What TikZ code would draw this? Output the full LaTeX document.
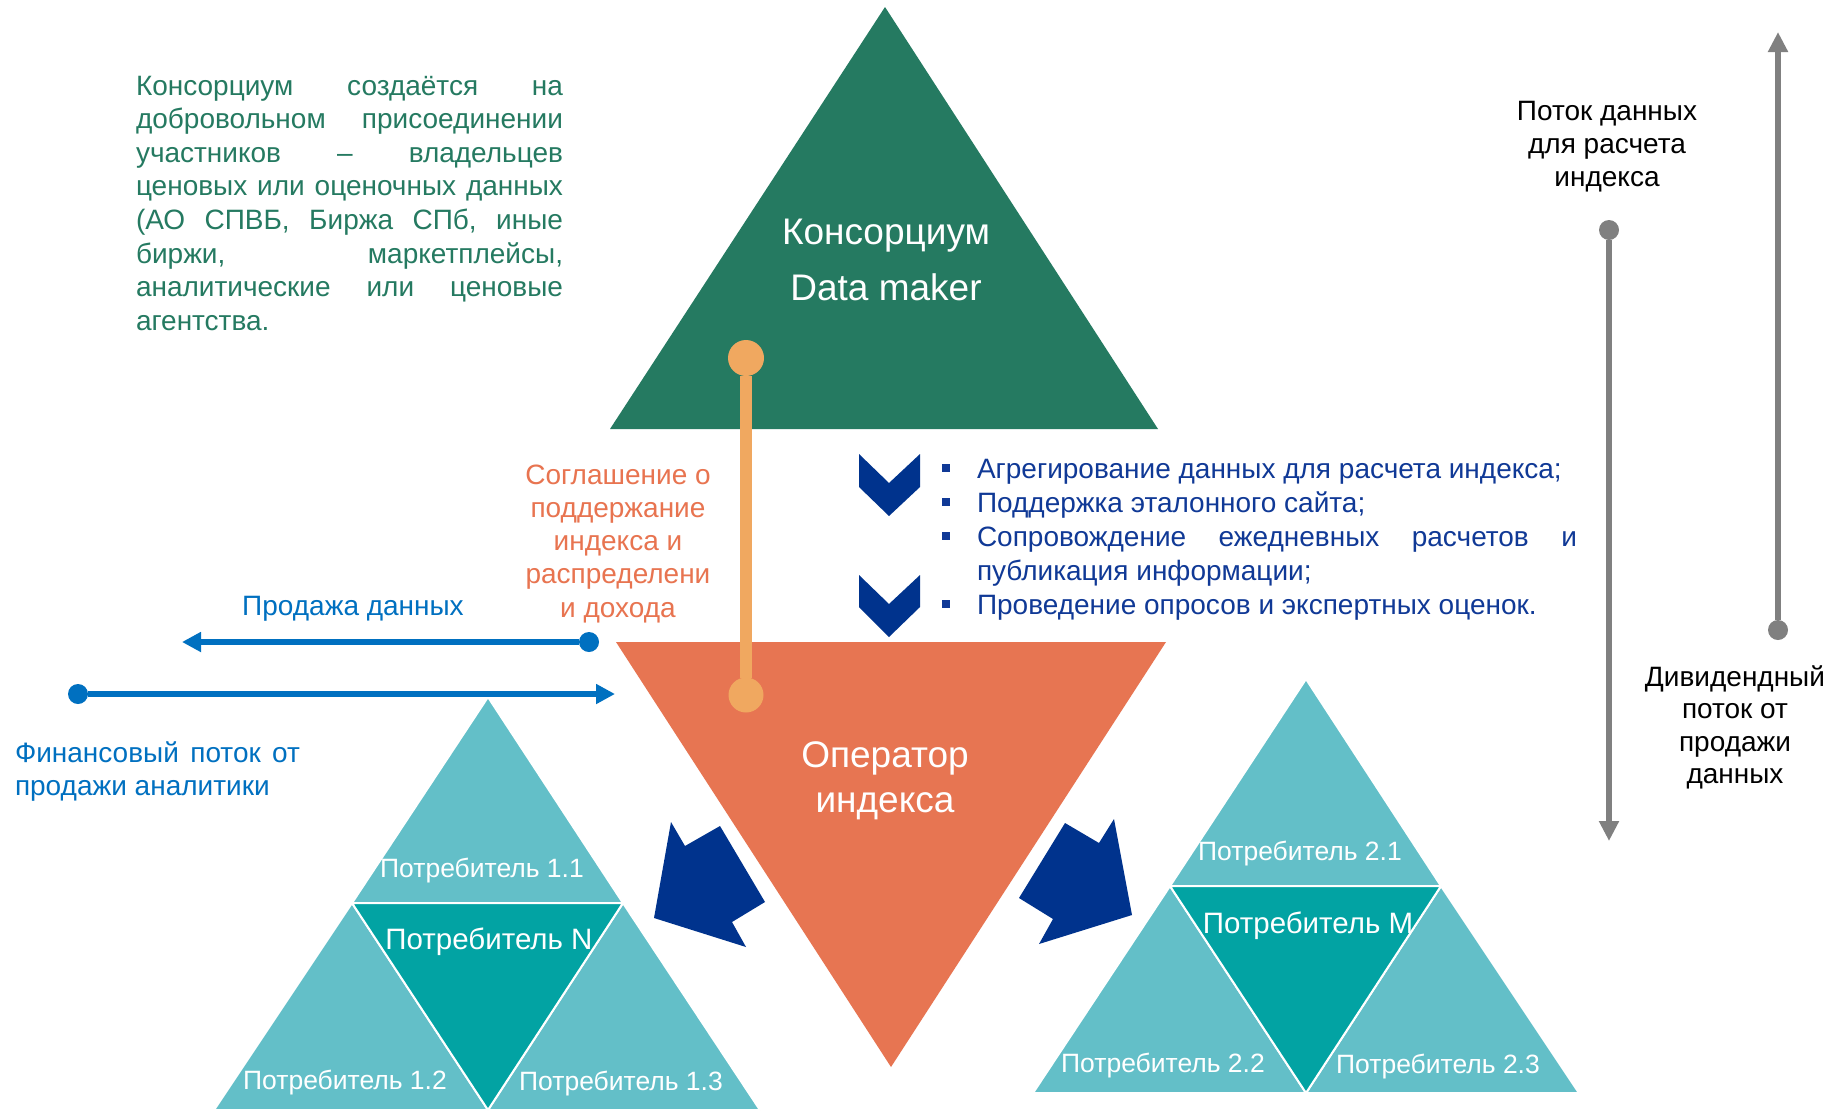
\documentclass[tikz,border=0pt]{standalone}
\usepackage{fontspec}
\setmainfont{Liberation Sans}
\usetikzlibrary{arrows.meta}
\definecolor{cgreen}{RGB}{37,122,97}
\definecolor{corange}{RGB}{231,117,82}
\definecolor{clink}{RGB}{240,168,96}
\definecolor{ctext}{RGB}{232,116,80}
\definecolor{clight}{RGB}{99,191,200}
\definecolor{cteal}{RGB}{2,163,163}
\definecolor{cnavy}{RGB}{0,51,141}
\definecolor{cbul}{RGB}{16,57,150}
\definecolor{cblue}{RGB}{0,112,192}
\definecolor{cgrey}{RGB}{128,128,128}
\begin{document}
\begin{tikzpicture}[x=1pt,y=-1pt,
  txt/.style={inner sep=0pt, outer sep=0pt, anchor=base},
  body/.style={font=\fontsize{28}{33.6}\selectfont},
  lightTri/.style={fill=clight, draw=white, line width=2pt, line join=round},
  darkTri/.style={fill=cteal, draw=white, line width=2pt, line join=round},
  conslbl/.style={txt, text=white, font=\fontsize{26.5}{30}\selectfont},
  consbig/.style={txt, text=white, font=\fontsize{29.5}{33}\selectfont},
  roundDot/.style={circle, inner sep=0pt, outer sep=0pt, minimum size=#1},
  bsq/.style={rectangle, inner sep=0pt, minimum size=8pt, fill=cbul},
  bluearrow/.style={draw=cblue, line width=6pt, -{Triangle[length=19pt,width=19pt]}},
  greyarrow/.style={draw=cgrey, line width=6.5pt, -{Triangle[length=20pt,width=19pt]}}
]
\useasboundingbox (0,0) rectangle (1834,1112);
\fill[white] (0,0) rectangle (1834,1112);

% main triangles
\fill[cgreen] (885,7) -- (610,429) -- (1158,429) -- cycle;
\fill[corange] (616,642) -- (1166,642) -- (891,1067) -- cycle;

% chevrons
\fill[cnavy] (859,454) -- (889,483) -- (920,454) -- (920,487) -- (889,516) -- (859,487) -- cycle;
\fill[cnavy] (859,575) -- (889,604) -- (920,575) -- (920,607) -- (889,637) -- (859,607) -- cycle;

% big block arrows
\fill[cnavy] (671,822) -- (685,846) -- (720,826) -- (765,902) -- (732,922) -- (746,947) -- (654,918) -- cycle;
\fill[cnavy] (1065,823) -- (1099,843) -- (1114,819) -- (1132,915) -- (1039,944) -- (1053,919) -- (1019,898) -- cycle;

% left consumer group
\filldraw[lightTri] (488,697) -- (352,903) -- (623,903) -- cycle;
\filldraw[lightTri] (352,903) -- (214,1110) -- (488,1110) -- cycle;
\filldraw[lightTri] (623,903) -- (488,1110) -- (760,1110) -- cycle;
\filldraw[darkTri] (352,903) -- (623,903) -- (488,1110) -- cycle;

% right consumer group
\filldraw[lightTri] (1306,679) -- (1170,886) -- (1441,886) -- cycle;
\filldraw[lightTri] (1170,886) -- (1033,1093) -- (1306,1093) -- cycle;
\filldraw[lightTri] (1441,886) -- (1306,1093) -- (1579,1093) -- cycle;
\filldraw[darkTri] (1170,886) -- (1441,886) -- (1306,1093) -- cycle;

% orange connector
\node[roundDot=36pt, fill=clink] (oc1) at (746,358) {};
\node[roundDot=35pt, fill=clink] (oc2) at (746,695) {};
\draw[clink, line width=11.5pt] (oc1) -- (oc2);

% blue arrows
\node[roundDot=20pt, fill=cblue] (bd1) at (589,642) {};
\coordinate (ba1) at (182,642);
\draw[bluearrow] (bd1) -- (ba1);
\node[roundDot=20pt, fill=cblue] (bd2) at (78,694) {};
\coordinate (ba2) at (615,694);
\draw[bluearrow] (bd2) -- (ba2);

% grey arrows
\node[roundDot=20pt, fill=cgrey] (gd1) at (1609,230) {};
\coordinate (ga1) at (1609,841);
\draw[greyarrow] (gd1) -- (ga1);
\node[roundDot=20pt, fill=cgrey] (gd2) at (1778,630) {};
\coordinate (ga2) at (1778,32);
\draw[greyarrow] (gd2) -- (ga2);

% texts
\node[txt, anchor=base west, text=cgreen, body] (intro) at (136,95) {\parbox[t]{427pt}{%
\hbox to 427pt{Консорциум\hfill создаётся\hfill на}%
\hbox to 427pt{добровольном\hfill присоединении}%
\hbox to 427pt{участников\hfill –\hfill владельцев}%
\hbox to 427pt{ценовых\hfill или\hfill оценочных\hfill данных}%
\hbox to 427pt{(АО\hfill СПВБ,\hfill Биржа\hfill СПб,\hfill иные}%
\hbox to 427pt{биржи,\hfill маркетплейсы,}%
\hbox to 427pt{аналитические\hfill или\hfill ценовые}%
\hbox{агентства.}}};

\node[txt, text=white, font=\fontsize{37}{56}\selectfont] (dm) at (886,244) {\parbox[t]{320pt}{\centering Консорциум\\Data maker}};
\node[txt, text=white, font=\fontsize{37}{45}\selectfont] (op) at (885,767) {\parbox[t]{320pt}{\centering Оператор\\индекса}};

\node[txt, text=ctext, font=\fontsize{28}{33.3}\selectfont] (agr) at (618,484) {\parbox[t]{260pt}{\centering Соглашение о\\поддержание\\индекса и\\распределени\\и дохода}};

\node[bsq] (b1) at (946,468) {};
\node[bsq] (b2) at (946,502) {};
\node[bsq] (b3) at (946,536) {};
\node[bsq] (b4) at (946,604) {};
\node[txt, anchor=base west, text=cbul, font=\fontsize{28}{34}\selectfont] (tasks) at (977,478) {\parbox[t]{600pt}{%
\hbox{Агрегирование данных для расчета индекса;}%
\hbox{Поддержка эталонного сайта;}%
\hbox to 600pt{Сопровождение\hfill ежедневных\hfill расчетов\hfill и}%
\hbox{публикация информации;}%
\hbox{Проведение опросов и экспертных оценок.}}};

\node[txt, text=cblue, body] (sale) at (353,615) {Продажа данных};
\node[txt, anchor=base west, text=cblue, font=\fontsize{28}{33.3}\selectfont] (fin) at (15,762) {\parbox[t]{285pt}{%
\hbox to 285pt{Финансовый\hfill поток\hfill от}%
\hbox{продажи аналитики}}};

\node[txt, text=black, font=\fontsize{28}{33}\selectfont] (flow) at (1607,120) {\parbox[t]{220pt}{\centering Поток данных\\для расчета\\индекса}};
\node[txt, text=black, font=\fontsize{28}{32.5}\selectfont] (div) at (1735,686) {\parbox[t]{220pt}{\centering Дивидендный\\поток от\\продажи\\данных}};

\node[conslbl] (c11) at (482,877) {Потребитель 1.1};
\node[consbig] (cN) at (489,949) {Потребитель N};
\node[conslbl] (c12) at (345,1089) {Потребитель 1.2};
\node[conslbl] (c13) at (621,1090) {Потребитель 1.3};
\node[conslbl] (c21) at (1300,860) {Потребитель 2.1};
\node[consbig] (cM) at (1308,933) {Потребитель M};
\node[conslbl] (c22) at (1163,1072) {Потребитель 2.2};
\node[conslbl] (c23) at (1438,1073) {Потребитель 2.3};
\end{tikzpicture}
\end{document}
